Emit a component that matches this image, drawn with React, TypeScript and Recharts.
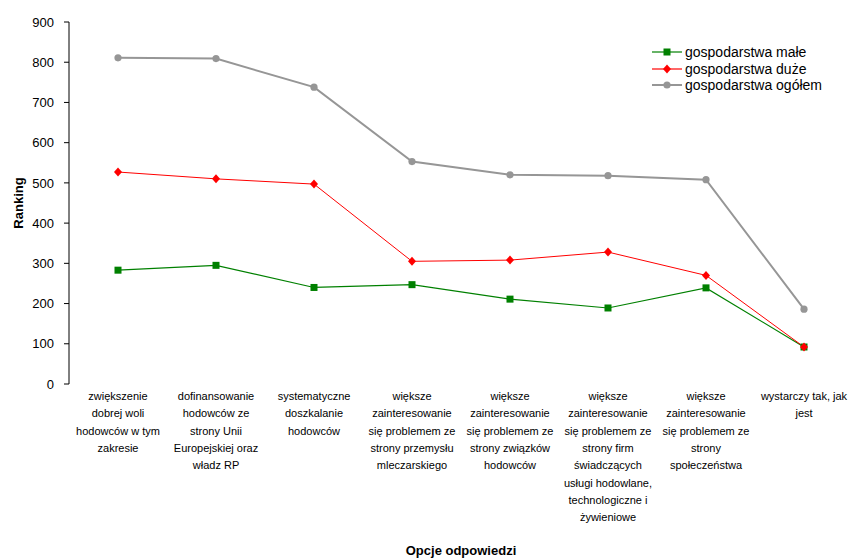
import { LineChart, Line, XAxis, YAxis } from "recharts";

const categoryLines: string[][] = [
  ["zwiększenie", "dobrej woli", "hodowców w tym", "zakresie"],
  ["dofinansowanie", "hodowców ze", "strony Unii", "Europejskiej oraz", "władz RP"],
  ["systematyczne", "doszkalanie", "hodowców"],
  ["większe", "zainteresowanie", "się problemem ze", "strony przemysłu", "mleczarskiego"],
  ["większe", "zainteresowanie", "się problemem ze", "strony związków", "hodowców"],
  ["większe", "zainteresowanie", "się problemem ze", "strony firm", "świadczących", "usługi hodowlane,", "technologiczne i", "żywieniowe"],
  ["większe", "zainteresowanie", "się problemem ze", "strony", "społeczeństwa"],
  ["wystarczy tak, jak", "jest"],
];
const categories = categoryLines.map((l) => l.join(" "));

const male = [283, 295, 240, 247, 211, 189, 239, 92];
const duze = [527, 510, 497, 305, 308, 328, 270, 92];
const ogolem = [811, 809, 738, 553, 520, 518, 508, 186];

const yTicks = [0, 100, 200, 300, 400, 500, 600, 700, 800, 900];
const edgeTicks = [0, 1, 2, 3, 4, 5, 6, 7, 8];

const data = categories.map((category, i) => ({
  category,
  male: male[i],
  duze: duze[i],
  ogolem: ogolem[i],
}));

const FONT = '"Liberation Sans", Arial, sans-serif';

const SquareDot = (p: any) => (
  <rect key={`sq-${p.index}`} x={p.cx - 3.5} y={p.cy - 3.5} width={7} height={7} fill="#008000" />
);
const DiamondDot = (p: any) => (
  <polygon
    key={`dm-${p.index}`}
    points={`${p.cx},${p.cy - 4.5} ${p.cx + 4},${p.cy} ${p.cx},${p.cy + 4.5} ${p.cx - 4},${p.cy}`}
    fill="#ff0000"
  />
);
const CircleDot = (p: any) => (
  <circle key={`ci-${p.index}`} cx={p.cx} cy={p.cy} r={3.6} fill="#969696" />
);

const CategoryTick = ({ x, y, payload }: any) => {
  const lines = categoryLines[payload.index] ?? [];
  return (
    <text x={x} y={y} textAnchor="middle" fontSize={11} fill="#000" fontFamily={FONT}>
      {lines.map((line, i) => (
        <tspan key={i} x={x} dy={i === 0 ? 16 : 17.3}>
          {line}
        </tspan>
      ))}
    </text>
  );
};

const legendItems = [
  { name: "gospodarstwa małe", color: "#008000", shape: "square" },
  { name: "gospodarstwa duże", color: "#ff0000", shape: "diamond" },
  { name: "gospodarstwa ogółem", color: "#969696", shape: "circle" },
];

const LegendBox = () => (
  <div style={{ position: "absolute", left: 652, top: 44, fontFamily: FONT, fontSize: 14, color: "#000" }}>
    {legendItems.map((it) => (
      <div key={it.name} style={{ display: "flex", alignItems: "center", height: 16.5 }}>
        <svg width={31} height={12} style={{ marginRight: 2 }}>
          <line x1={0} y1={6} x2={30} y2={6} stroke={it.color} strokeWidth={it.shape === "circle" ? 2 : 1.2} />
          {it.shape === "square" && <rect x={11.5} y={2.5} width={7} height={7} fill={it.color} />}
          {it.shape === "diamond" && <polygon points="15,1.5 19,6 15,10.5 11,6" fill={it.color} />}
          {it.shape === "circle" && <circle cx={15} cy={6} r={3.6} fill={it.color} />}
        </svg>
        <span style={{ whiteSpace: "nowrap", lineHeight: "16.5px" }}>{it.name}</span>
      </div>
    ))}
  </div>
);

export default function App() {
  return (
    <div style={{ position: "absolute", left: 0, top: 0, width: 854, height: 560, background: "#fff", fontFamily: FONT }}>
      <LineChart width={854} height={560} data={data} margin={{ top: 22, right: 1, bottom: 0, left: 0 }}>
        <XAxis
          xAxisId="edge"
          type="number"
          domain={[0, 8]}
          ticks={edgeTicks}
          allowDataOverflow
          tick={false}
          tickSize={5}
          height={0}
          axisLine={{ stroke: "#000" }}
          tickLine={{ stroke: "#000" }}
        />
        <XAxis
          xAxisId="cat"
          dataKey="category"
          scale="band"
          interval={0}
          axisLine={false}
          tickLine={false}
          tickSize={0}
          tickMargin={0}
          height={176}
          tick={<CategoryTick />}
          label={{
            value: "Opcje odpowiedzi",
            position: "insideBottom",
            offset: 5,
            style: { fontWeight: "bold", fontSize: 13, fill: "#000", fontFamily: FONT },
          }}
        />
        <YAxis
          domain={[0, 900]}
          ticks={yTicks}
          width={69}
          tickSize={5}
          tickMargin={10}
          axisLine={{ stroke: "#000" }}
          tickLine={{ stroke: "#000" }}
          tick={{ fontSize: 13, fill: "#000", fontFamily: FONT }}
          label={{
            value: "Ranking",
            angle: -90,
            position: "insideLeft",
            offset: 18,
            style: { textAnchor: "middle", fontWeight: "bold", fontSize: 13, fill: "#000", fontFamily: FONT },
          }}
        />
        <Line xAxisId="cat" dataKey="ogolem" stroke="#969696" strokeWidth={2} dot={CircleDot} isAnimationActive={false} />
        <Line xAxisId="cat" dataKey="male" stroke="#008000" strokeWidth={1.2} dot={SquareDot} isAnimationActive={false} />
        <Line xAxisId="cat" dataKey="duze" stroke="#ff0000" strokeWidth={1} dot={DiamondDot} isAnimationActive={false} />
      </LineChart>
      <LegendBox />
    </div>
  );
}
